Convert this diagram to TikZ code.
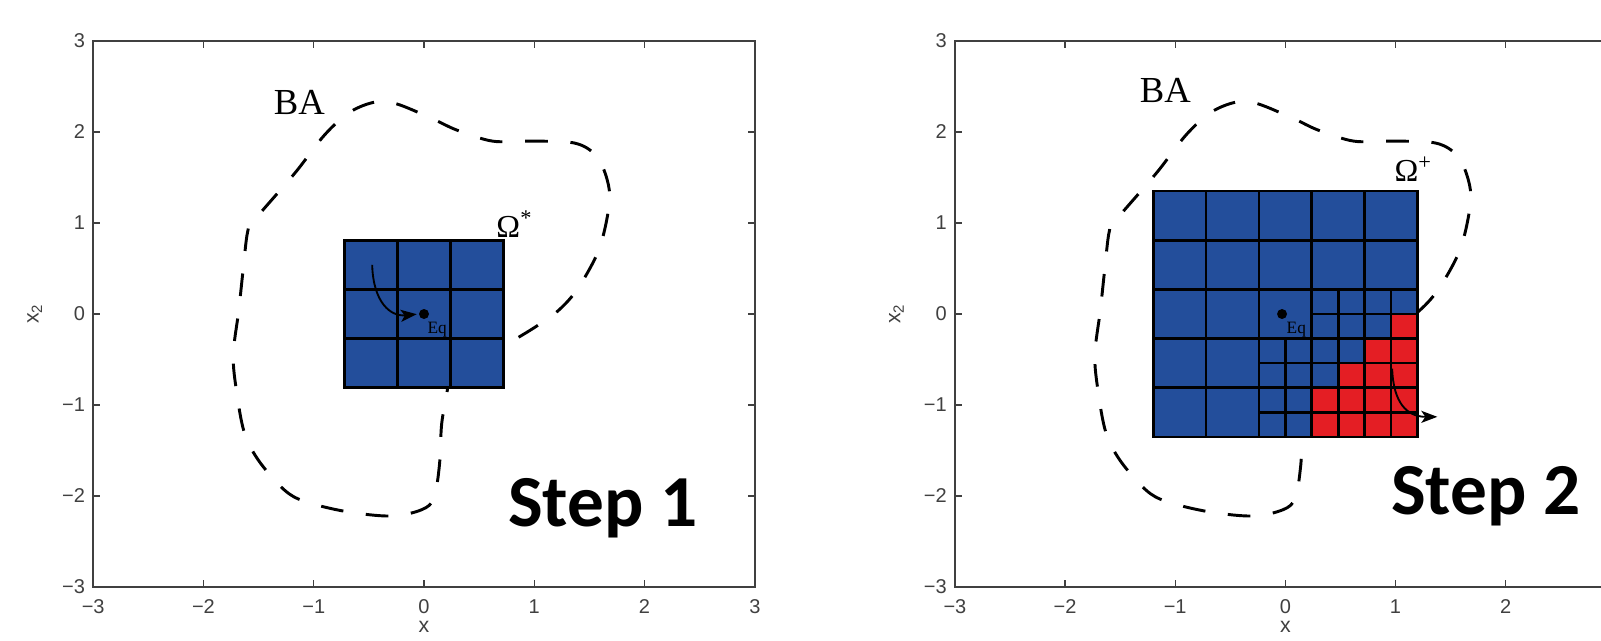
\documentclass[tikz,border=0pt]{standalone}
\usepackage{fontspec}
\setmainfont{Liberation Serif}
\newfontfamily\axisfont{Liberation Sans}
\newfontfamily\stepfont{Carlito}
\usetikzlibrary{arrows.meta}
\definecolor{cellblue}{RGB}{35,78,155}
\definecolor{cellred}{RGB}{228,30,36}
\definecolor{axisgray}{RGB}{64,64,64}
\tikzset{
  frame/.style={draw=axisgray, line width=1.5pt},
  tickmark/.style={draw=axisgray, line width=1pt},
  ticklab/.style={font=\axisfont\fontsize{15}{16}\selectfont, text=axisgray, inner sep=0pt},
  axlab/.style={font=\axisfont\fontsize{16}{17}\selectfont, text=axisgray, inner sep=0pt},
  ba/.style={line width=2.2pt, dash pattern=on 17pt off 17pt},
  gridl/.style={draw=black, line width=2pt},
  eqdot/.style={circle, fill=black, minimum size=7.5pt, inner sep=0pt},
  eqlab/.style={font=\fontsize{13}{14}\selectfont, inner sep=0pt, anchor=base},
  balab/.style={font=\fontsize{27.5}{28}\selectfont, inner sep=0pt},
  omlab/.style={font=\fontsize{24}{25}\selectfont, inner sep=0pt, anchor=base west},
  steplab/.style={font=\stepfont\bfseries\fontsize{55}{56}\selectfont, inner sep=0pt, anchor=base},
  arr/.style={line width=1.4pt, -{Stealth[length=12pt, width=9pt, inset=3pt]}},
}
\newcommand\plotaxes[2]{%
  \draw[frame] (-3,-3) rectangle (3,3);
  \foreach \v in {-2,...,2}{
    \draw[tickmark] (\v,-3) -- ++(0,5pt);
    \draw[tickmark] (\v,3) -- ++(0,-5pt);
    \draw[tickmark] (-3,\v) -- ++(5pt,0);
    \draw[tickmark] (3,\v) -- ++(-5pt,0);
  }
  \foreach \v/\t [count=\k] in {#2}{
    \node[ticklab, anchor=north] (#1xt\k) at ([yshift=-9.5pt]\v,-3) {\t};
  }
  \foreach \v/\t [count=\k] in {-3/{−3},-2/{−2},-1/{−1},0/0,1/1,2/2,3/3}{
    \node[ticklab, anchor=east] (#1yt\k) at ([xshift=-6pt]-3,\v) {\t};
  }
  \node[axlab, anchor=north] (#1xlab) at ([yshift=-25.5pt]0,-3) {x};
  \node[axlab, rotate=90] (#1ylab) at (-3.53,0) {x\textsubscript{2}};
}
\newcommand\bacurve{%
  \draw[ba] plot[smooth, tension=0.55] coordinates {
    (0.5,-0.5) (0.71,-0.36) (1.0,-0.15) (1.22,0.04) (1.40,0.29) (1.59,0.72)
    (1.68,1.21) (1.66,1.48) (1.56,1.74) (1.36,1.88) (0.94,1.90) (0.62,1.90)
    (0.30,2.02) (0.07,2.15) (-0.25,2.31) (-0.44,2.33) (-0.67,2.22) (-0.90,1.97)
    (-1.17,1.55) (-1.54,1.03) (-1.60,0.90) (-1.64,0.49) (-1.68,0.04) (-1.73,-0.45)
    (-1.70,-0.85) (-1.63,-1.30) (-1.50,-1.61) (-1.27,-1.93) (-1.08,-2.06)
    (-0.71,-2.17) (-0.30,-2.22) (-0.02,-2.15) (0.09,-2.02) (0.14,-1.66)
    (0.16,-1.21) (0.21,-0.85) (0.23,-0.6)};
}
\begin{document}
\begin{tikzpicture}[x=0.75pt,y=-0.75pt]
\useasboundingbox (0,0) rectangle (1601,640);
\clip (0,0) rectangle (1601,640);
\fill[white] (0,0) rectangle (1601,640);

% ---------- Step 1 ----------
\begin{scope}[shift={(318pt,-235.5pt)}, x=82.7pt, y=68.25pt]
  \plotaxes{p}{-3/{−3},-2/{−2},-1/{−1},0/0,1/1,2/2,3/3}
  \bacurve
  \fill[cellblue] (-0.72,-0.81) rectangle (0.72,0.81);
  \foreach \xx in {-0.24,0.24} \draw[gridl] (\xx,-0.81) -- (\xx,0.81);
  \foreach \yy in {-0.27,0.27} \draw[gridl] (-0.72,\yy) -- (0.72,\yy);
  \draw[gridl] (-0.72,-0.81) rectangle (0.72,0.81);
  \node[eqdot] (eq1) at (0,0) {};
  \node[eqlab] (eqt1) at (0.12,-0.21) {Eq};
  \coordinate (a1s) at (-0.47,0.54);
  \draw[arr, shorten >=1.5pt] (a1s) .. controls (-0.46,0.12) and (-0.3,-0.03) .. (eq1.west);
  \node[omlab] (om1) at (0.655,0.84) {Ω\textsuperscript{*}};
  \node[balab] (ba1) at (-1.13,2.32) {BA};
  \node[steplab] (st1) at (1.62,-2.33) {Step 1};
\end{scope}

% ---------- Step 2 ----------
\begin{scope}[shift={(964pt,-235.5pt)}, x=82.6pt, y=68.25pt]
  \plotaxes{q}{-3/{−3},-2/{−2},-1/{−1},0/0,1/1,2/2}
  \bacurve
  \fill[cellblue] (-1.2,-1.35) rectangle (1.2,1.35);
  \foreach \i/\j in {1/5,2/4,2/5,3/3,3/4,3/5,4/2,4/3,4/4,4/5,5/2,5/3,5/4,5/5}
    \fill[cellred] ({-0.24+0.24*\j},{0.27-0.27*\i}) rectangle ++(0.24,-0.27);
  \foreach \xx in {-0.72,-0.24,0.24,0.72} \draw[gridl] (\xx,-1.35) -- (\xx,1.35);
  \foreach \yy in {-0.81,-0.27,0.27,0.81} \draw[gridl] (-1.2,\yy) -- (1.2,\yy);
  \draw[gridl] (0,-0.27) -- (0,-1.35);
  \draw[gridl] (0.48,0.27) -- (0.48,-1.35);
  \draw[gridl] (0.96,0.27) -- (0.96,-1.35);
  \draw[gridl] (0.24,0) -- (1.2,0);
  \draw[gridl] (-0.24,-0.54) -- (1.2,-0.54);
  \draw[gridl] (-0.24,-1.08) -- (1.2,-1.08);
  \draw[gridl] (-1.2,-1.35) rectangle (1.2,1.35);
  \node[eqdot] (eq2) at (-0.03,0) {};
  \node[eqlab] (eqt2) at (0.1,-0.21) {Eq};
  \coordinate (a2s) at (0.97,-0.6);
  \coordinate (a2e) at (1.38,-1.13);
  \draw[arr] (a2s) .. controls (0.98,-0.97) and (1.1,-1.13) .. (a2e);
  \node[omlab] (om2) at (0.99,1.455) {Ω\textsuperscript{+}};
  \node[balab] (ba2) at (-1.09,2.46) {BA};
  \node[steplab] (st2) at (1.82,-2.2) {Step 2};
\end{scope}
\end{tikzpicture}
\end{document}
